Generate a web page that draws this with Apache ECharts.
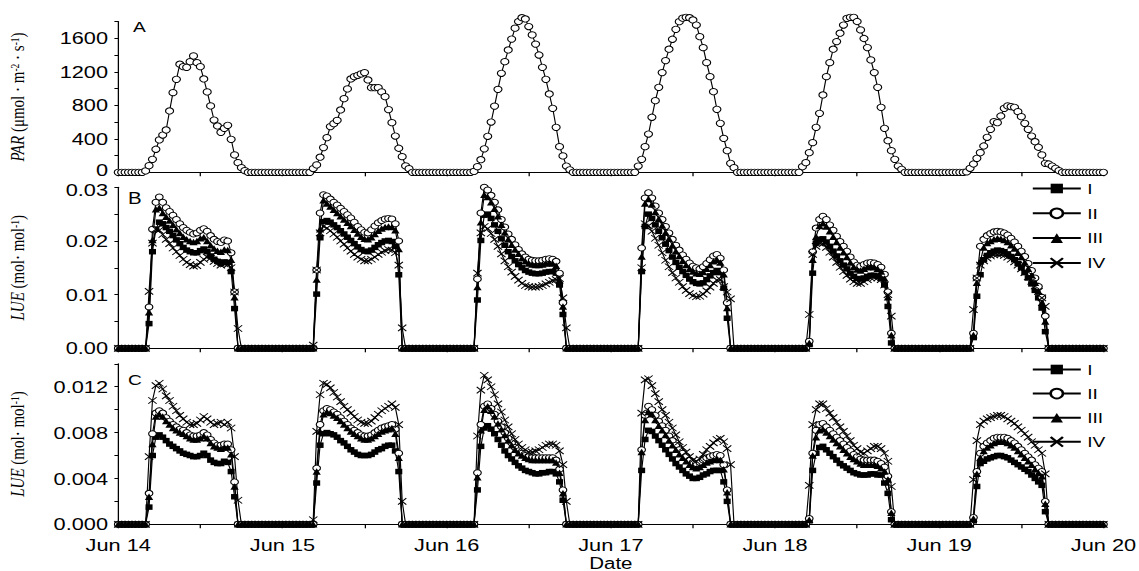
<!DOCTYPE html>
<html>
<head>
<meta charset="utf-8">
<script src="https://cdn.jsdelivr.net/npm/echarts/dist/echarts.min.js"></script>
<style>
html,body{margin:0;padding:0;background:#fff;overflow:hidden}
/* the source figure is stretched sideways, so the chart is drawn narrow and widened */
#chart{width:890px;height:571px;transform:scaleX(1.2798);transform-origin:0 0}
</style>
</head>
<body>
<div id="chart"></div>
<script>
//--tick labels
var dayLabels = ['Jun 14','Jun 15','Jun 16','Jun 17','Jun 18','Jun 19','Jun 20'];
var legendNames = ['I','II','III','IV'];

//--half-hour readings, one list per day, slots 04:00..18:30 (other slots read as 0)
var firstSlot = 8;

var parA = [
 [16,79,155,275,386,445,505,732,951,1110,1290,1261,1253,1320,1389,1309,1261,1114,959,792,624,553,477,525,561,394,207,115,55,19],
 [0,45,88,180,295,413,546,580,620,744,879,995,1114,1142,1158,1174,1190,1102,1010,1010,1010,959,903,749,592,433,287,187,76,43],
 [10,67,150,280,430,600,790,990,1182,1320,1460,1590,1720,1800,1845,1830,1740,1640,1530,1400,1253,1110,935,764,537,306,195,75,30,0],
 [75,155,306,457,657,855,1014,1190,1333,1469,1588,1707,1798,1840,1850,1845,1818,1758,1619,1488,1309,1142,962,752,585,405,258,107,55,0],
 [67,115,234,354,537,704,923,1142,1309,1469,1560,1660,1758,1838,1850,1850,1800,1700,1597,1489,1341,1190,1014,776,525,377,258,155,75,36],
 [5,48,99,167,234,314,418,513,604,592,672,764,792,784,776,724,664,585,513,433,365,299,207,107,99,75,48,20,0,0]
];

var lueB_I = [
 [0,0.0046,0.0180,0.0222,0.0235,0.0232,0.0225,0.0218,0.0210,0.0202,0.0195,0.0188,0.0183,0.0180,0.0178,0.0178,0.0182,0.0185,0.0180,0.0172,0.0166,0.0162,0.0158,0.0161,0.0160,0.0143,0.0074,0,0,0],
 [0,0,0.0101,0.0206,0.0236,0.0238,0.0235,0.0230,0.0225,0.0219,0.0213,0.0207,0.0201,0.0195,0.0189,0.0184,0.0181,0.0180,0.0183,0.0188,0.0193,0.0197,0.0200,0.0201,0.0199,0.0190,0.0137,0,0,0],
 [0,0.0090,0.0201,0.0248,0.0250,0.0242,0.0230,0.0218,0.0204,0.0192,0.0180,0.0171,0.0163,0.0156,0.0150,0.0145,0.0142,0.0140,0.0139,0.0139,0.0140,0.0142,0.0143,0.0143,0.0140,0.0118,0.0063,0,0,0],
 [0,0.0143,0.0227,0.0250,0.0242,0.0230,0.0218,0.0206,0.0194,0.0182,0.0170,0.0160,0.0151,0.0143,0.0136,0.0129,0.0124,0.0121,0.0120,0.0122,0.0128,0.0135,0.0141,0.0145,0.0141,0.0112,0.0056,0,0,0],
 [0,0,0.0007,0.0140,0.0196,0.0203,0.0204,0.0198,0.0190,0.0181,0.0172,0.0163,0.0155,0.0148,0.0140,0.0134,0.0130,0.0129,0.0131,0.0134,0.0136,0.0136,0.0134,0.0130,0.0118,0.0078,0.0010,0,0,0],
 [0,0,0.0020,0.0097,0.0137,0.0165,0.0173,0.0178,0.0181,0.0183,0.0182,0.0180,0.0176,0.0171,0.0165,0.0158,0.0150,0.0141,0.0131,0.0120,0.0108,0.0094,0.0075,0.0031,0,0,0,0,0,0]
];
var lueB_II = [
 [0,0.0077,0.0222,0.0272,0.0282,0.0272,0.0262,0.0255,0.0248,0.0240,0.0232,0.0225,0.0220,0.0216,0.0213,0.0215,0.0220,0.0223,0.0218,0.0210,0.0203,0.0199,0.0197,0.0202,0.0200,0.0178,0.0105,0,0,0],
 [0,0,0.0146,0.0252,0.0286,0.0284,0.0278,0.0272,0.0267,0.0261,0.0255,0.0249,0.0243,0.0235,0.0227,0.0221,0.0216,0.0215,0.0221,0.0228,0.0234,0.0238,0.0241,0.0242,0.0241,0.0232,0.0200,0,0,0],
 [0,0.0129,0.0252,0.0300,0.0295,0.0285,0.0272,0.0258,0.0240,0.0226,0.0213,0.0203,0.0193,0.0184,0.0176,0.0170,0.0166,0.0164,0.0163,0.0163,0.0164,0.0166,0.0167,0.0166,0.0162,0.0140,0.0085,0,0,0],
 [0,0.0187,0.0280,0.0290,0.0280,0.0265,0.0252,0.0240,0.0227,0.0215,0.0203,0.0192,0.0183,0.0174,0.0166,0.0159,0.0153,0.0150,0.0148,0.0152,0.0158,0.0165,0.0172,0.0175,0.0168,0.0146,0.0085,0,0,0],
 [0,0,0.0013,0.0180,0.0224,0.0240,0.0246,0.0240,0.0230,0.0220,0.0209,0.0199,0.0190,0.0181,0.0170,0.0161,0.0155,0.0153,0.0156,0.0159,0.0160,0.0159,0.0156,0.0151,0.0138,0.0105,0.0028,0,0,0],
 [0,0,0.0028,0.0131,0.0190,0.0203,0.0210,0.0214,0.0217,0.0218,0.0217,0.0215,0.0211,0.0205,0.0198,0.0190,0.0181,0.0171,0.0158,0.0145,0.0131,0.0115,0.0095,0.0060,0,0,0,0,0,0]
];
var lueB_III = [
 [0,0.0067,0.0202,0.0259,0.0262,0.0252,0.0245,0.0238,0.0230,0.0222,0.0215,0.0208,0.0203,0.0200,0.0198,0.0200,0.0205,0.0207,0.0200,0.0192,0.0186,0.0182,0.0180,0.0184,0.0183,0.0165,0.0095,0,0,0],
 [0,0,0.0128,0.0222,0.0276,0.0270,0.0264,0.0258,0.0252,0.0246,0.0240,0.0234,0.0228,0.0221,0.0214,0.0208,0.0204,0.0203,0.0207,0.0213,0.0219,0.0223,0.0226,0.0227,0.0226,0.0220,0.0185,0,0,0],
 [0,0.0114,0.0235,0.0286,0.0282,0.0272,0.0260,0.0246,0.0230,0.0216,0.0203,0.0193,0.0184,0.0176,0.0168,0.0162,0.0158,0.0156,0.0155,0.0155,0.0156,0.0158,0.0159,0.0158,0.0154,0.0127,0.0078,0,0,0],
 [0,0.0171,0.0270,0.0278,0.0268,0.0254,0.0241,0.0229,0.0216,0.0204,0.0192,0.0181,0.0172,0.0163,0.0155,0.0148,0.0143,0.0140,0.0139,0.0142,0.0148,0.0155,0.0162,0.0165,0.0160,0.0138,0.0075,0,0,0],
 [0,0,0.0010,0.0165,0.0208,0.0228,0.0233,0.0227,0.0218,0.0208,0.0198,0.0188,0.0179,0.0170,0.0160,0.0152,0.0147,0.0145,0.0148,0.0151,0.0152,0.0151,0.0148,0.0143,0.0130,0.0095,0.0025,0,0,0],
 [0,0,0.0025,0.0122,0.0162,0.0188,0.0196,0.0200,0.0203,0.0205,0.0204,0.0202,0.0198,0.0192,0.0186,0.0178,0.0170,0.0160,0.0148,0.0136,0.0122,0.0106,0.0085,0.0050,0,0,0,0,0,0]
];
var lueB_IV = [
 [0,0.0106,0.0196,0.0222,0.0220,0.0212,0.0203,0.0195,0.0187,0.0180,0.0173,0.0166,0.0160,0.0156,0.0153,0.0154,0.0160,0.0166,0.0170,0.0168,0.0162,0.0158,0.0155,0.0157,0.0156,0.0150,0.0105,0.0037,0,0],
 [0,0.0006,0.0146,0.0215,0.0227,0.0224,0.0219,0.0213,0.0207,0.0200,0.0194,0.0187,0.0181,0.0175,0.0170,0.0166,0.0163,0.0163,0.0166,0.0170,0.0175,0.0179,0.0182,0.0184,0.0183,0.0178,0.0155,0.0038,0,0],
 [0,0.0140,0.0215,0.0227,0.0223,0.0214,0.0203,0.0190,0.0176,0.0163,0.0152,0.0142,0.0134,0.0127,0.0121,0.0117,0.0115,0.0114,0.0114,0.0115,0.0117,0.0120,0.0123,0.0126,0.0128,0.0130,0.0094,0.0038,0,0],
 [0,0.0150,0.0232,0.0228,0.0218,0.0205,0.0192,0.0178,0.0164,0.0152,0.0141,0.0131,0.0123,0.0115,0.0108,0.0102,0.0098,0.0096,0.0097,0.0101,0.0107,0.0114,0.0121,0.0127,0.0128,0.0115,0.0105,0.0092,0,0],
 [0,0,0.0063,0.0175,0.0190,0.0196,0.0195,0.0188,0.0179,0.0170,0.0160,0.0151,0.0143,0.0136,0.0129,0.0124,0.0121,0.0121,0.0124,0.0128,0.0131,0.0132,0.0131,0.0128,0.0118,0.0100,0.0060,0,0,0],
 [0,0,0.0072,0.0131,0.0155,0.0163,0.0168,0.0172,0.0174,0.0175,0.0175,0.0173,0.0170,0.0166,0.0161,0.0155,0.0148,0.0141,0.0133,0.0125,0.0116,0.0106,0.0094,0.0078,0,0,0,0,0,0]
];

var lueC_I = [
 [0,0.0015,0.0060,0.0076,0.0078,0.0076,0.0073,0.0070,0.0068,0.0066,0.0064,0.0062,0.0061,0.0060,0.0059,0.0059,0.0060,0.0062,0.0060,0.0056,0.0054,0.0053,0.0053,0.0055,0.0054,0.0046,0.0024,0,0,0],
 [0,0,0.0036,0.0069,0.0079,0.0080,0.0079,0.0078,0.0076,0.0073,0.0071,0.0068,0.0065,0.0063,0.0061,0.0060,0.0060,0.0060,0.0061,0.0063,0.0065,0.0066,0.0068,0.0069,0.0069,0.0064,0.0046,0,0,0],
 [0,0.0030,0.0068,0.0084,0.0086,0.0083,0.0079,0.0074,0.0069,0.0064,0.0060,0.0057,0.0054,0.0051,0.0049,0.0047,0.0046,0.0045,0.0044,0.0044,0.0045,0.0045,0.0046,0.0046,0.0044,0.0037,0.0021,0,0,0],
 [0,0.0047,0.0074,0.0082,0.0081,0.0077,0.0073,0.0069,0.0065,0.0061,0.0057,0.0053,0.0050,0.0047,0.0044,0.0042,0.0040,0.0040,0.0041,0.0043,0.0044,0.0046,0.0047,0.0047,0.0047,0.0037,0.0020,0,0,0],
 [0,0,0.0003,0.0047,0.0062,0.0067,0.0068,0.0065,0.0062,0.0059,0.0056,0.0053,0.0051,0.0049,0.0047,0.0045,0.0044,0.0043,0.0043,0.0043,0.0044,0.0044,0.0043,0.0043,0.0036,0.0027,0.0004,0,0,0],
 [0,0,0.0003,0.0033,0.0053,0.0055,0.0057,0.0058,0.0059,0.0060,0.0060,0.0059,0.0058,0.0056,0.0054,0.0052,0.0050,0.0048,0.0046,0.0043,0.0040,0.0037,0.0034,0.0011,0,0,0,0,0,0]
];
var lueC_II = [
 [0,0.0027,0.0079,0.0097,0.0099,0.0097,0.0093,0.0090,0.0087,0.0085,0.0083,0.0082,0.0080,0.0078,0.0077,0.0077,0.0078,0.0080,0.0078,0.0074,0.0071,0.0069,0.0069,0.0070,0.0070,0.0065,0.0037,0,0,0],
 [0,0,0.0049,0.0087,0.0099,0.0101,0.0100,0.0098,0.0096,0.0093,0.0090,0.0087,0.0084,0.0082,0.0080,0.0078,0.0077,0.0077,0.0078,0.0080,0.0082,0.0084,0.0085,0.0086,0.0087,0.0083,0.0062,0,0,0],
 [0,0.0045,0.0087,0.0103,0.0105,0.0101,0.0096,0.0090,0.0085,0.0080,0.0075,0.0071,0.0067,0.0064,0.0062,0.0060,0.0059,0.0058,0.0058,0.0058,0.0058,0.0058,0.0058,0.0058,0.0056,0.0048,0.0030,0,0,0],
 [0,0.0065,0.0095,0.0103,0.0100,0.0095,0.0090,0.0086,0.0082,0.0077,0.0073,0.0069,0.0065,0.0062,0.0059,0.0056,0.0054,0.0053,0.0054,0.0056,0.0058,0.0059,0.0060,0.0061,0.0060,0.0052,0.0030,0,0,0],
 [0,0,0.0005,0.0062,0.0082,0.0087,0.0088,0.0085,0.0082,0.0079,0.0076,0.0073,0.0070,0.0067,0.0064,0.0061,0.0059,0.0057,0.0056,0.0056,0.0056,0.0056,0.0055,0.0053,0.0050,0.0042,0.0011,0,0,0],
 [0,0,0.0006,0.0046,0.0062,0.0068,0.0071,0.0073,0.0075,0.0076,0.0076,0.0076,0.0075,0.0073,0.0071,0.0068,0.0065,0.0062,0.0059,0.0056,0.0052,0.0049,0.0046,0.0020,0,0,0,0,0,0]
];
var lueC_III = [
 [0,0.0024,0.0070,0.0094,0.0096,0.0094,0.0090,0.0087,0.0084,0.0082,0.0080,0.0079,0.0077,0.0075,0.0074,0.0074,0.0075,0.0077,0.0075,0.0071,0.0068,0.0067,0.0066,0.0067,0.0067,0.0061,0.0033,0,0,0],
 [0,0,0.0046,0.0081,0.0096,0.0098,0.0097,0.0095,0.0093,0.0090,0.0087,0.0084,0.0081,0.0079,0.0077,0.0075,0.0074,0.0074,0.0075,0.0077,0.0079,0.0081,0.0082,0.0083,0.0084,0.0079,0.0058,0,0,0],
 [0,0.0041,0.0082,0.0100,0.0103,0.0099,0.0094,0.0088,0.0083,0.0078,0.0073,0.0069,0.0065,0.0062,0.0060,0.0058,0.0057,0.0056,0.0056,0.0056,0.0056,0.0056,0.0056,0.0056,0.0054,0.0045,0.0027,0,0,0],
 [0,0.0063,0.0091,0.0098,0.0096,0.0091,0.0086,0.0082,0.0078,0.0073,0.0069,0.0065,0.0061,0.0058,0.0055,0.0052,0.0050,0.0049,0.0050,0.0052,0.0054,0.0055,0.0056,0.0057,0.0056,0.0048,0.0028,0,0,0],
 [0,0,0.0004,0.0060,0.0076,0.0082,0.0083,0.0080,0.0077,0.0074,0.0071,0.0068,0.0065,0.0062,0.0059,0.0057,0.0055,0.0053,0.0052,0.0052,0.0052,0.0052,0.0051,0.0049,0.0046,0.0039,0.0010,0,0,0],
 [0,0,0.0005,0.0044,0.0058,0.0064,0.0067,0.0069,0.0071,0.0072,0.0072,0.0072,0.0071,0.0069,0.0067,0.0064,0.0061,0.0058,0.0055,0.0052,0.0048,0.0045,0.0042,0.0018,0,0,0,0,0,0]
];
var lueC_IV = [
 [0,0.0059,0.0108,0.0121,0.0123,0.0118,0.0112,0.0108,0.0103,0.0099,0.0095,0.0092,0.0089,0.0087,0.0087,0.0088,0.0091,0.0094,0.0092,0.0089,0.0087,0.0088,0.0089,0.0087,0.0089,0.0084,0.0059,0.0021,0,0],
 [0,0.0004,0.0081,0.0113,0.0123,0.0122,0.0119,0.0115,0.0111,0.0107,0.0103,0.0100,0.0097,0.0094,0.0091,0.0089,0.0088,0.0088,0.0090,0.0093,0.0096,0.0099,0.0101,0.0103,0.0105,0.0102,0.0087,0.0020,0,0],
 [0,0.0077,0.0117,0.0130,0.0126,0.0120,0.0113,0.0105,0.0098,0.0091,0.0085,0.0079,0.0074,0.0070,0.0067,0.0065,0.0063,0.0063,0.0064,0.0065,0.0067,0.0069,0.0070,0.0070,0.0069,0.0064,0.0052,0.0020,0,0],
 [0,0.0097,0.0126,0.0127,0.0121,0.0114,0.0107,0.0100,0.0095,0.0089,0.0084,0.0078,0.0072,0.0067,0.0063,0.0059,0.0056,0.0055,0.0057,0.0061,0.0065,0.0068,0.0071,0.0074,0.0075,0.0072,0.0066,0.0052,0,0],
 [0,0,0.0034,0.0087,0.0100,0.0105,0.0105,0.0101,0.0097,0.0093,0.0089,0.0085,0.0081,0.0077,0.0073,0.0069,0.0066,0.0063,0.0062,0.0064,0.0066,0.0068,0.0068,0.0066,0.0062,0.0055,0.0033,0,0,0],
 [0,0,0.0039,0.0073,0.0087,0.0090,0.0092,0.0093,0.0094,0.0095,0.0095,0.0094,0.0092,0.0090,0.0088,0.0085,0.0082,0.0079,0.0076,0.0072,0.0069,0.0065,0.0062,0.0044,0,0,0,0,0,0]
];

//--hours since Jun 14 00:00 against value
function toPoints(days){
	var pts = [];
	days.forEach(function(vals, d){
		for (var s = 0; s < 48; s++) {
			var k = s - firstSlot;
			pts.push([d * 24 + s / 2, (k >= 0 && k < vals.length) ? vals[k] : 0]);
		}
	});
	pts.push([144, 0]);
	return pts;
}

var black = '#000';
var crossPath = 'path://M0,0L10,10M10,0L0,10';
var openCircle = {color: '#fff', borderColor: black, borderWidth: 0.9};
var marks = [
	{symbol: 'rect', symbolSize: 5.5, itemStyle: {color: black}},
	{symbol: 'circle', symbolSize: 6, itemStyle: openCircle},
	{symbol: 'triangle', symbolSize: 6.5, itemStyle: {color: black}},
	{symbol: crossPath, symbolSize: 6.5, itemStyle: {color: black, borderColor: black, borderWidth: 0.9}}
];
var parMark = {symbol: 'circle', symbolSize: 6.3, itemStyle: openCircle};

function lineSeries(name, mark, days, idx){
	return {
		type: 'line', name: name,
		xAxisIndex: idx, yAxisIndex: idx,
		data: toPoints(days),
		symbol: mark.symbol, symbolSize: mark.symbolSize,
		itemStyle: mark.itemStyle,
		lineStyle: {color: black, width: 0.9},
		clip: false, silent: true,
		emphasis: {disabled: true}
	};
}

var nameStyle = {
	fontFamily: 'Liberation Serif', fontSize: 15, color: black,
	rich: {
		i: {fontFamily: 'Liberation Serif', fontSize: 15, fontStyle: 'italic', color: black},
		s: {fontFamily: 'Liberation Serif', fontSize: 9.5, color: black, verticalAlign: 'top', lineHeight: 9}
	}
};

// labels where two panels meet are nudged apart a little
var edgeRich = {
	up: {fontSize: 17, fontFamily: 'Liberation Sans', color: black, lineHeight: 12, padding: [0, 0, 5, 0]},
	dn: {fontSize: 17, fontFamily: 'Liberation Sans', color: black, lineHeight: 12, padding: [5, 0, 0, 0]}
};

function yAxis(idx, max, step, label, name){
	return {
		type: 'value', gridIndex: idx, min: 0, max: max, interval: step,
		axisLine: {show: true, lineStyle: {color: black, width: 1}},
		axisTick: {show: true, length: 3, lineStyle: {color: black}},
		splitLine: {show: false},
		axisLabel: {show: true, margin: 8, fontSize: 17, lineHeight: 12, color: black, fontFamily: 'Liberation Sans', formatter: label, rich: edgeRich},
		name: name, nameLocation: 'middle', nameGap: 71, nameRotate: 90,
		nameTextStyle: nameStyle
	};
}

function xAxis(idx){
	return {
		type: 'value', gridIndex: idx, min: 0, max: 144, interval: 12,
		axisLine: {show: true, onZero: false, lineStyle: {color: black, width: 1}},
		axisTick: {show: true, length: 4, lineStyle: {color: black}},
		splitLine: {show: false},
		axisLabel: {
			show: idx === 2, margin: 12, fontSize: 17, color: black, fontFamily: 'Liberation Sans',
			formatter: function(v){ return v % 24 === 0 ? dayLabels[v / 24] : ''; }
		},
		name: idx === 2 ? 'Date' : '', nameLocation: 'middle', nameGap: 31,
		nameTextStyle: {fontSize: 16, color: black, fontFamily: 'Liberation Sans'}
	};
}

function legend(top, gap){
	return {
		data: legendNames, orient: 'vertical', left: 806, top: top, padding: 0,
		itemWidth: 37.5, itemHeight: 12, itemGap: gap, selectedMode: false,
		textStyle: {fontSize: 15, color: black, fontFamily: 'Liberation Sans'}
	};
}

var myChart = echarts.init(document.getElementById('chart'), null, {renderer: 'svg'});

var option = {
	animation: false,
	backgroundColor: '#fff',
	textStyle: {fontFamily: 'Liberation Sans'},
	grid: [
		{left: 92.4, width: 769.8, top: 21.5, height: 150.8, containLabel: false, outerBoundsMode: 'none'},
		{left: 92.4, width: 769.8, top: 187.3, height: 161, containLabel: false, outerBoundsMode: 'none'},
		{left: 92.4, width: 769.8, top: 363.8, height: 160.5, containLabel: false, outerBoundsMode: 'none'}
	],
	xAxis: [xAxis(0), xAxis(1), xAxis(2)],
	yAxis: [
		yAxis(0, 1800, 200, function(v){
			if (v === 0) return '{up|0}';
			return v % 400 === 0 ? String(v) : '';
		}, '{i|PAR} (μmol · m{s|-2} · s{s|-1})'),
		yAxis(1, 0.03, 0.005, function(v){
			var k = Math.round(v * 1000);
			if (k === 30) return '{dn|0.03}';
			return k % 10 === 0 ? v.toFixed(2) : '';
		}, '{i|LUE} (mol· mol{s|-1})'),
		yAxis(2, 0.014, 0.002, function(v){ return Math.round(v * 1000) % 4 === 0 ? v.toFixed(3) : ''; },
			'{i|LUE} (mol· mol{s|-1})')
	],
	legend: [legend(181, 9.8), legend(362, 9.1)],
	graphic: [
		{type: 'text', left: 104, top: 19, style: {text: 'A', font: '15px "Liberation Sans"', fill: black}},
		{type: 'text', left: 100, top: 190, style: {text: 'B', font: '16px "Liberation Sans"', fill: black}},
		{type: 'text', left: 100, top: 372, style: {text: 'C', font: '15px "Liberation Sans"', fill: black}}
	],
	series: [
		lineSeries('PAR', parMark, parA, 0),
		lineSeries('I', marks[0], lueB_I, 1),
		lineSeries('II', marks[1], lueB_II, 1),
		lineSeries('III', marks[2], lueB_III, 1),
		lineSeries('IV', marks[3], lueB_IV, 1),
		lineSeries('I', marks[0], lueC_I, 2),
		lineSeries('II', marks[1], lueC_II, 2),
		lineSeries('III', marks[2], lueC_III, 2),
		lineSeries('IV', marks[3], lueC_IV, 2)
	]
};

myChart.setOption(option);
</script>
</body>
</html>
